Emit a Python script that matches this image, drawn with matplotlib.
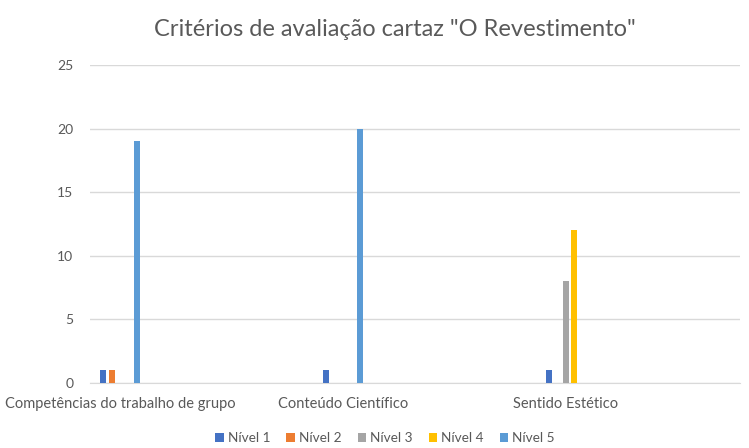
import matplotlib
matplotlib.use("Agg")
import matplotlib.pyplot as plt
import numpy as np
from matplotlib.patches import Patch

plt.rcParams['font.family'] = ['Lato', 'DejaVu Sans']

categories = ["Competências do trabalho de grupo", "Conteúdo Científico", "Sentido Estético"]
series_names = ["Nível 1", "Nível 2", "Nível 3", "Nível 4", "Nível 5"]
nivel1 = [1, 1, 1]
nivel2 = [1, 0, 0]
nivel3 = [0, 0, 8]
nivel4 = [0, 0, 12]
nivel5 = [19, 20, 0]
series = [nivel1, nivel2, nivel3, nivel4, nivel5]
colors = ["#4472C4", "#ED7D31", "#A5A5A5", "#FFC000", "#5B9BD5"]
yticks = [0, 5, 10, 15, 20, 25]

fig = plt.figure(figsize=(7.49, 4.48), dpi=100)
ax = fig.add_axes([90/749, 65/448, 650/749, 318/448])

x = np.arange(len(categories))
step = 0.0382
width = 0.027
for i, (vals, c) in enumerate(zip(series, colors)):
    ax.bar(x + (i - 2) * step, vals, width=width, color=c, zorder=3)

ax.set_xlim(-0.137, 2.784)
ax.set_ylim(0, 25)
ax.set_yticks(yticks)
ax.set_xticks(x)
ax.set_xticklabels(categories, fontsize=10.5)
ax.grid(axis='y', color='#D9D9D9', linewidth=1, zorder=0)
for s in ['top', 'right', 'left']:
    ax.spines[s].set_visible(False)
ax.spines['bottom'].set_color('#D9D9D9')
ax.tick_params(axis='both', length=0, colors='#595959')
ax.tick_params(axis='y', pad=12, labelsize=10)
ax.tick_params(axis='x', pad=10)

fig.text(395/749, 1 - 30/448, 'Critérios de avaliação cartaz "O Revestimento"',
         ha='center', va='center', fontsize=17, color='#595959')

handles = [Patch(facecolor=c, edgecolor='none') for c in colors]
fig.legend(handles, series_names, loc='center', bbox_to_anchor=(385/749, 1 - 438/448),
           ncol=5, frameon=False, fontsize=9.8, labelcolor='#595959',
           handlelength=0.6, handleheight=0.6, handletextpad=0.3, columnspacing=1.2)

fig.savefig("out.png", dpi=100)
